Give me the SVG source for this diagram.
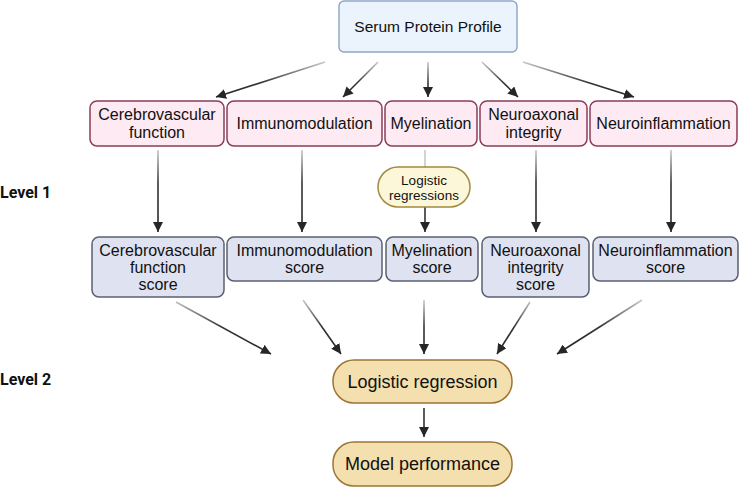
<svg xmlns="http://www.w3.org/2000/svg" width="750" height="487" viewBox="0 0 750 487">
<defs>
<style>
.t{font-family:"Liberation Sans",Arial,sans-serif;fill:#111;text-anchor:middle}
.s16{font-size:16px}
.lv{font-family:Roboto,"Liberation Sans",sans-serif;font-weight:bold;font-size:16px;fill:#111}
.top{fill:#ebf3fc;stroke:#93a6c8;stroke-width:1.5}
.pink{fill:#fdeaf2;stroke:#8c3c58;stroke-width:1.5}
.lav{fill:#dfe2f0;stroke:#5b6070;stroke-width:1.5}
.beige{fill:#f4dfae;stroke:#9c7535;stroke-width:1.5}
.oval{fill:#fbf7d8;stroke:#a08b40;stroke-width:1.5}
.ln{fill:none;stroke-width:1.6}
</style>
<marker id="ah" markerUnits="userSpaceOnUse" markerWidth="11" markerHeight="10" refX="10" refY="5" orient="auto">
<path d="M0,0 L10,5 L0,10 z" fill="#262626"/>
</marker>
<linearGradient id="g1" gradientUnits="userSpaceOnUse" x1="0" y1="62" x2="0" y2="97">
<stop offset="0" stop-color="#c8c8c8"/><stop offset="0.6" stop-color="#333"/><stop offset="1" stop-color="#262626"/>
</linearGradient>
<linearGradient id="g2" gradientUnits="userSpaceOnUse" x1="0" y1="150" x2="0" y2="232">
<stop offset="0" stop-color="#c8c8c8"/><stop offset="0.4" stop-color="#333"/><stop offset="1" stop-color="#262626"/>
</linearGradient>
<linearGradient id="g3" gradientUnits="userSpaceOnUse" x1="0" y1="300" x2="0" y2="354">
<stop offset="0" stop-color="#c8c8c8"/><stop offset="0.5" stop-color="#333"/><stop offset="1" stop-color="#262626"/>
</linearGradient>
</defs>

<g id="connectors">
<line class="ln" stroke="url(#g1)" x1="325" y1="62" x2="216" y2="97" marker-end="url(#ah)"/>
<line class="ln" stroke="url(#g1)" x1="378" y1="62" x2="343" y2="97" marker-end="url(#ah)"/>
<line class="ln" stroke="url(#g1)" x1="428" y1="62" x2="428" y2="97" marker-end="url(#ah)"/>
<line class="ln" stroke="url(#g1)" x1="482" y1="62" x2="518" y2="97" marker-end="url(#ah)"/>
<line class="ln" stroke="url(#g1)" x1="523" y1="62" x2="634" y2="97" marker-end="url(#ah)"/>

<line class="ln" stroke="url(#g2)" x1="158" y1="150" x2="158" y2="232" marker-end="url(#ah)"/>
<line class="ln" stroke="url(#g2)" x1="302" y1="150" x2="302" y2="232" marker-end="url(#ah)"/>
<line class="ln" stroke="#c8c8c8" x1="425" y1="150" x2="425" y2="167"/>
<line class="ln" stroke="#333" x1="425" y1="207" x2="425" y2="232" marker-end="url(#ah)"/>
<line class="ln" stroke="url(#g2)" x1="536" y1="150" x2="536" y2="232" marker-end="url(#ah)"/>
<line class="ln" stroke="url(#g2)" x1="671" y1="150" x2="671" y2="232" marker-end="url(#ah)"/>

<line class="ln" stroke="url(#g3)" x1="176" y1="302" x2="271" y2="354" marker-end="url(#ah)"/>
<line class="ln" stroke="url(#g3)" x1="303" y1="300" x2="341" y2="354" marker-end="url(#ah)"/>
<line class="ln" stroke="url(#g3)" x1="424" y1="300" x2="424" y2="354" marker-end="url(#ah)"/>
<line class="ln" stroke="url(#g3)" x1="530" y1="302" x2="497" y2="354" marker-end="url(#ah)"/>
<line class="ln" stroke="url(#g3)" x1="642" y1="300" x2="557" y2="354" marker-end="url(#ah)"/>

<line class="ln" stroke="#333" x1="424" y1="408" x2="424" y2="437" marker-end="url(#ah)"/>
</g>

<g id="serum">
<rect class="top" x="339" y="1" width="178" height="51" rx="5"/>
<text class="t" x="428" y="32" style="font-size:15.5px">Serum Protein Profile</text>
</g>

<g id="cerebro">
<rect class="pink" x="90" y="101" width="134" height="45" rx="7"/>
<text class="t s16" x="157" y="120">Cerebrovascular</text>
<text class="t s16" x="157" y="138">function</text>
</g>
<g id="immuno">
<rect class="pink" x="227" y="101" width="155" height="45" rx="7"/>
<text class="t s16" x="304.5" y="129">Immunomodulation</text>
</g>
<g id="myelin">
<rect class="pink" x="385" y="101" width="92" height="45" rx="7"/>
<text class="t s16" x="431" y="129">Myelination</text>
</g>
<g id="neuroax">
<rect class="pink" x="480" y="101" width="107" height="45" rx="7"/>
<text class="t s16" x="533.5" y="120">Neuroaxonal</text>
<text class="t s16" x="533.5" y="138">integrity</text>
</g>
<g id="neuroinf">
<rect class="pink" x="590" y="101" width="147" height="45" rx="7"/>
<text class="t s16" x="663.5" y="129">Neuroinflammation</text>
</g>

<g id="logregs">
<rect class="oval" x="378" y="167" width="92" height="40" rx="20"/>
<text class="t" x="424" y="185" style="font-size:13.5px">Logistic</text>
<text class="t" x="424" y="200" style="font-size:13.5px">regressions</text>
</g>

<g id="cerebro-score">
<rect class="lav" x="92" y="237" width="132" height="60" rx="7"/>
<text class="t s16" x="158" y="256">Cerebrovascular</text>
<text class="t s16" x="158" y="273">function</text>
<text class="t s16" x="158" y="290">score</text>
</g>
<g id="immuno-score">
<rect class="lav" x="227" y="237" width="155" height="44" rx="7"/>
<text class="t s16" x="304.5" y="256">Immunomodulation</text>
<text class="t s16" x="304.5" y="273">score</text>
</g>
<g id="myelin-score">
<rect class="lav" x="386" y="237" width="92" height="44" rx="7"/>
<text class="t s16" x="432" y="256">Myelination</text>
<text class="t s16" x="432" y="273">score</text>
</g>
<g id="neuroax-score">
<rect class="lav" x="482" y="237" width="107" height="60" rx="7"/>
<text class="t s16" x="535.5" y="256">Neuroaxonal</text>
<text class="t s16" x="535.5" y="273">integrity</text>
<text class="t s16" x="535.5" y="290">score</text>
</g>
<g id="neuroinf-score">
<rect class="lav" x="593" y="237" width="145" height="44" rx="7"/>
<text class="t s16" x="665.5" y="256">Neuroinflammation</text>
<text class="t s16" x="665.5" y="273">score</text>
</g>

<g id="logreg">
<rect class="beige" x="333" y="360" width="179" height="43" rx="21"/>
<text class="t" x="422.5" y="388" style="font-size:18px">Logistic regression</text>
</g>
<g id="model">
<rect class="beige" x="333" y="442" width="179" height="44" rx="21"/>
<text class="t" x="422.5" y="470" style="font-size:18px">Model performance</text>
</g>

<g id="levels">
<text class="lv" x="0" y="198">Level 1</text>
<text class="lv" x="0" y="385">Level 2</text>
</g>
</svg>
